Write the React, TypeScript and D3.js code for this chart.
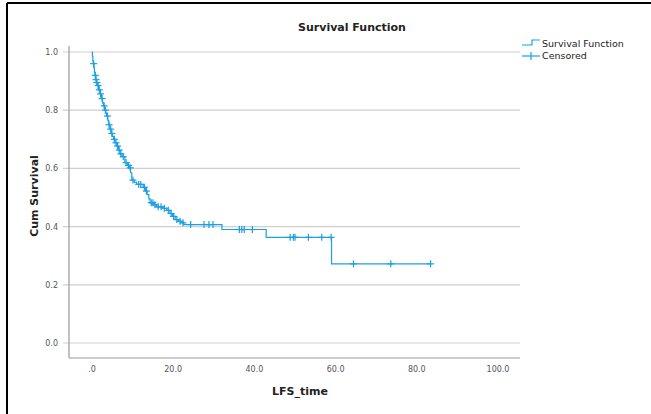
import React from "react";
import * as d3 from "d3";

// Kaplan-Meier steps: event times and survival after each event
const eventTimes = [
  0.1, 0.2, 0.3, 0.5, 0.6, 0.7, 0.9, 1.1, 1.3, 1.6, 2.0, 2.3, 2.6, 2.8, 3.1, 3.4, 3.6, 3.9, 4.1, 4.4,
  4.7, 5.0, 5.3, 5.7, 6.1, 6.5, 6.9, 7.4, 8.1, 8.7, 9.2, 9.5, 9.8, 10.4, 11.0, 12.6, 13.2, 13.6, 14.0,
  14.3, 15.2, 15.9, 17.5, 18.4, 19.2, 19.8, 20.5, 21.3, 22.1, 22.6, 32.0, 42.9, 59.0,
];
const survivalValues = [
  0.985, 0.97, 0.96, 0.945, 0.93, 0.92, 0.905, 0.895, 0.885, 0.87, 0.856, 0.84, 0.825, 0.815, 0.8, 0.79,
  0.78, 0.765, 0.75, 0.735, 0.72, 0.71, 0.7, 0.688, 0.677, 0.663, 0.65, 0.64, 0.62, 0.61, 0.602, 0.585,
  0.56, 0.552, 0.545, 0.535, 0.522, 0.51, 0.495, 0.482, 0.475, 0.468, 0.463, 0.456, 0.445, 0.435, 0.424,
  0.418, 0.413, 0.407, 0.39, 0.363, 0.272,
];
const censoredTimes = [
  0.4, 0.8, 1.0, 1.2, 1.5, 1.8, 2.1, 2.5, 3.0, 3.3, 3.8, 4.2, 4.6, 4.9, 5.5, 5.9, 6.3, 6.7, 7.1, 7.7,
  8.4, 9.0, 9.4, 10.1, 11.5, 12.0, 12.9, 13.4, 14.6, 15.0, 15.5, 16.3, 17.0, 17.8, 18.8, 19.5, 20.1,
  20.9, 21.7, 22.4, 24.3, 27.6, 28.8, 29.8, 36.3, 36.9, 37.5, 39.5, 48.8, 49.6, 50.0, 53.3, 56.6, 58.9,
  64.4, 73.6, 83.4,
];
const endTime = 83.4;
const xTicks = [0, 20, 40, 60, 80, 100];
const xTickLabels = [".0", "20.0", "40.0", "60.0", "80.0", "100.0"];
const yTicks = [0, 0.2, 0.4, 0.6, 0.8, 1.0];
const yTickLabels = ["0.0", "0.2", "0.4", "0.6", "0.8", "1.0"];

const BLUE = "#1c9fe2";
const FONT = "'DejaVu Sans', 'Liberation Sans', sans-serif";

function survAt(t: number): number {
  let s = 1;
  for (let i = 0; i < eventTimes.length; i++) {
    if (eventTimes[i] <= t) s = survivalValues[i];
  }
  return s;
}

export default function App() {
  const x = d3.scaleLinear().domain([0, 100]).range([92, 498]);
  const y = d3.scaleLinear().domain([0, 1]).range([343, 52]);
  const axisLeft = 69;
  const axisRight = 520;
  const axisBottom = 358;

  const pts: [number, number][] = [[0, 1]];
  eventTimes.forEach((t, i) => pts.push([t, survivalValues[i]]));
  pts.push([endTime, survivalValues[survivalValues.length - 1]]);
  const line = d3
    .line<[number, number]>()
    .x((d) => x(d[0]))
    .y((d) => y(d[1]))
    .curve(d3.curveStepAfter);

  return (
    <svg
      width={651}
      height={414}
      style={{ position: "absolute", left: 0, top: 0, background: "#fff" }}
      fontFamily={FONT}
    >
      <rect x={0} y={0} width={651} height={414} fill="#fff" />
      {/* frame */}
      <line x1={7} x2={7} y1={3} y2={414} stroke="#000" strokeWidth={2} />
      <line x1={7} x2={651} y1={3} y2={3} stroke="#000" strokeWidth={2} />

      {/* grid */}
      {yTicks.map((v, i) => (
        <g key={"g" + i}>
          <line x1={63} x2={axisRight} y1={y(v)} y2={y(v)} stroke="#cfcfcf" strokeWidth={1.2} />
          <text x={58} y={y(v) + 3} fontSize={8} fill="#555" textAnchor="end">
            {yTickLabels[i]}
          </text>
        </g>
      ))}
      {/* axes */}
      <line x1={axisLeft} x2={axisLeft} y1={46} y2={axisBottom} stroke="#999" strokeWidth={1.2} />
      <line x1={axisLeft} x2={axisRight} y1={axisBottom} y2={axisBottom} stroke="#999" strokeWidth={1.2} />
      {xTicks.map((v, i) => (
        <text key={"x" + i} x={x(v)} y={372} fontSize={8} fill="#555" textAnchor="middle">
          {xTickLabels[i]}
        </text>
      ))}

      {/* curve */}
      <path d={line(pts) || ""} fill="none" stroke={BLUE} strokeWidth={1.2} />
      {censoredTimes.map((t, i) => {
        const cx = x(t);
        const cy = y(survAt(t));
        return (
          <g key={"c" + i} stroke={BLUE} strokeWidth={1.2}>
            <line x1={cx - 3.5} x2={cx + 3.5} y1={cy} y2={cy} />
            <line x1={cx} x2={cx} y1={cy - 3.5} y2={cy + 3.5} />
          </g>
        );
      })}

      {/* titles */}
      <text x={352} y={31} fontSize={11} fontWeight="bold" textAnchor="middle" fill="#222">
        Survival Function
      </text>
      <text x={300} y={395} fontSize={11} fontWeight="bold" textAnchor="middle" fill="#222">
        LFS_time
      </text>
      <text
        transform="translate(38,196) rotate(-90)"
        fontSize={11}
        fontWeight="bold"
        textAnchor="middle"
        fill="#222"
      >
        Cum Survival
      </text>

      {/* legend */}
      <path d="M522,45 H532 V40 H540" fill="none" stroke={BLUE} strokeWidth={1.2} />
      <text x={542} y={47} fontSize={9.5} fill="#222">
        Survival Function
      </text>
      <line x1={522} x2={540} y1={56} y2={56} stroke={BLUE} strokeWidth={1.2} />
      <line x1={531} x2={531} y1={52} y2={60} stroke={BLUE} strokeWidth={1.2} />
      <text x={542} y={59} fontSize={9.5} fill="#222">
        Censored
      </text>
    </svg>
  );
}
